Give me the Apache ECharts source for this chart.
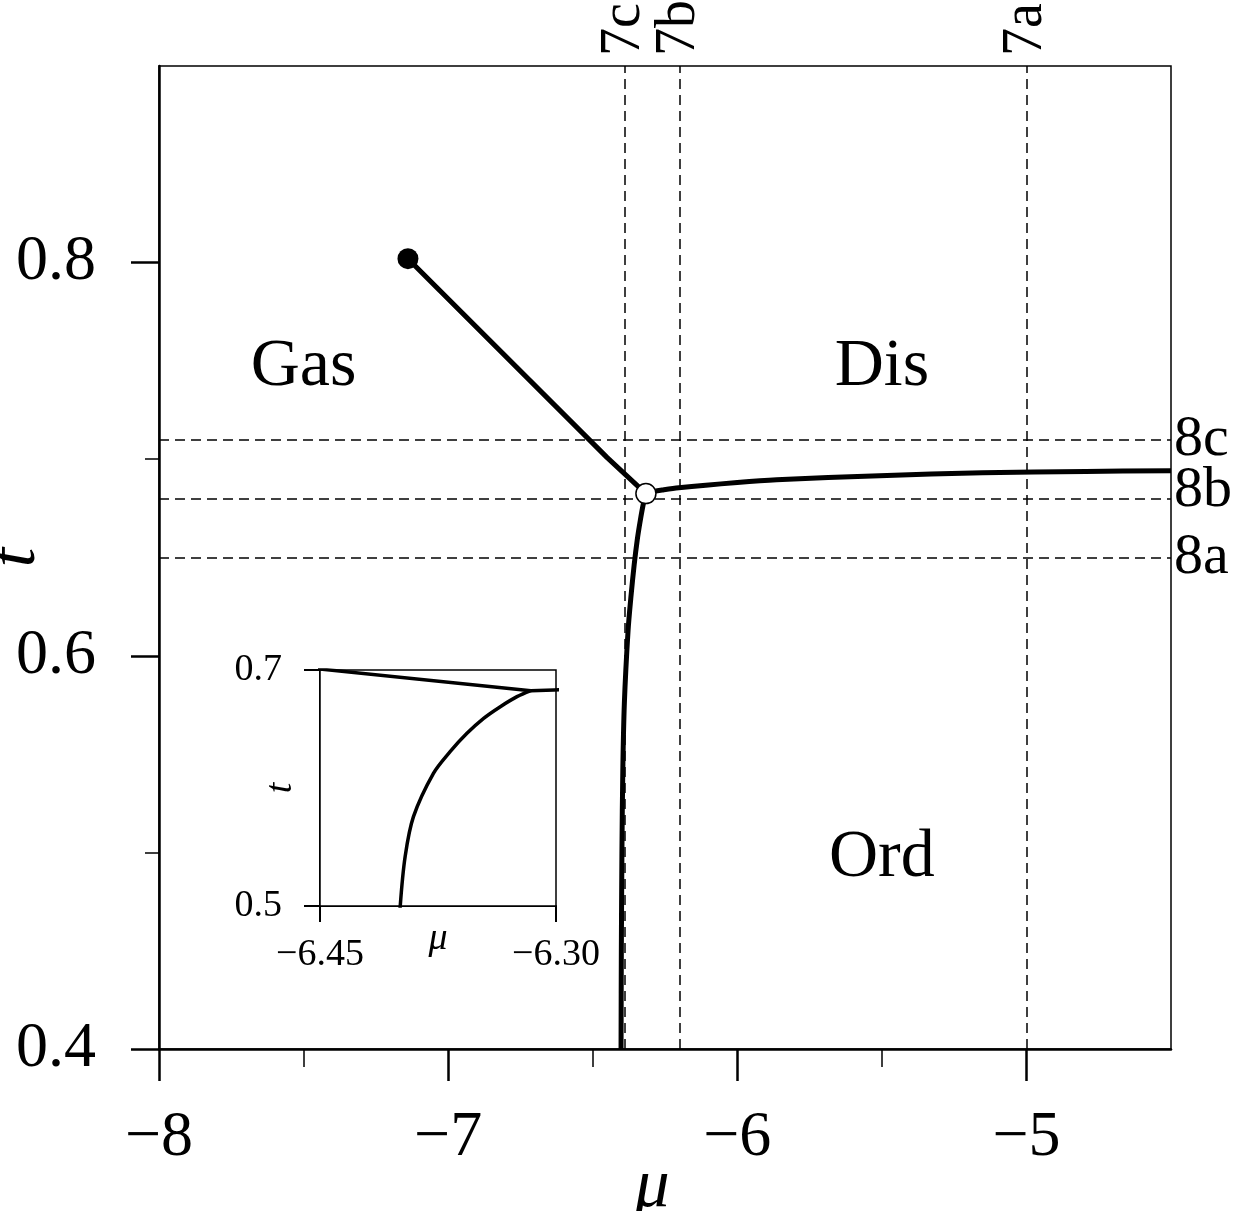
<!DOCTYPE html>
<html><head><meta charset="utf-8">
<script src="https://cdn.jsdelivr.net/npm/echarts@6/dist/echarts.min.js"></script>
<style>html,body{margin:0;padding:0;background:#fff}#c{width:1238px;height:1211px}</style>
</head><body><div id="c"></div><script>
// ---- data ----
const xMajorTicks = [-8, -7, -6, -5];
const xMinorTicks = [-7.5, -6.5, -5.5];
const yMajorTicks = [0.4, 0.6, 0.8];
const yMinorTicks = [0.5, 0.7];
const insetXTicks = [-6.45, -6.30];
const insetYTicks = [0.5, 0.7];

const criticalPoint = [-7.139, 0.802];
const triplePoint = [-6.316, 0.6825];

const gasLiquidMu = [-7.139, -6.45, -6.316];
const gasLiquidT  = [0.802, 0.7008, 0.6825];

const ordGasMu = [-6.402, -6.401, -6.399, -6.3959, -6.3906, -6.3779, -6.3673, -6.3566, -6.346, -6.3354, -6.3248, -6.316];
const ordGasT  = [0.40, 0.45, 0.50, 0.5418, 0.5757, 0.6124, 0.6308, 0.6463, 0.659, 0.6689, 0.6774, 0.6825];

const disOrdMu = [-6.316, -6.29, -6.26, -6.2025, -6.0, -5.864, -5.508, -5.152, -4.795, -4.5];
const disOrdT  = [0.6825, 0.6835, 0.6843, 0.6855, 0.6882, 0.6896, 0.6916, 0.6931, 0.6938, 0.6941];

const verticalCutLabels = ['7c', '7b', '7a'];
const verticalCutMu = [-6.39, -6.2, -5.0];
const horizontalCutLabels = ['8c', '8b', '8a'];
const horizontalCutT = [0.71, 0.684, 0.65];

const phaseLabels = ['Gas', 'Dis', 'Ord'];
const phaseMu = [-7.5, -5.5, -5.5];
const phaseT = [0.75, 0.75, 0.5];

const insetDashMu = [-6.39];
const insetDashT = [0.684];

// ---- helpers ----
const zip = (a, b) => a.map((v, i) => [v, b[i]]);
const FONT = '"Liberation Serif", "DejaVu Serif", serif';
const minus = (s) => s.replace('-', '\u2212');

const chart = echarts.init(document.getElementById('c'), null, {renderer: 'canvas'});

const lineBase = {type: 'line', symbol: 'none', silent: true, animation: false};
const labelScatter = {type: 'scatter', xAxisIndex: 0, yAxisIndex: 0, z: 5, silent: true, symbolSize: 0, clip: false,
  itemStyle: {color: '#000', opacity: 1}};

chart.setOption({
  animation: false,
  backgroundColor: '#fff',
  grid: [
    {left: 159, top: 66, width: 1012, height: 983, containLabel: false, outerBoundsMode: 'none',
     show: true, borderColor: '#000', borderWidth: 1.5, backgroundColor: 'transparent'},
    {left: 320, top: 670, width: 236, height: 236, containLabel: false, outerBoundsMode: 'none',
     show: true, borderColor: '#000', borderWidth: 1.5, backgroundColor: '#fff', z: 10}
  ],
  xAxis: [
    {gridIndex: 0, type: 'value', min: -8, max: -4.5, position: 'bottom',
     axisLine: {show: true, onZero: false, lineStyle: {color: '#000', width: 2.5}},
     axisTick: {show: true, customValues: xMajorTicks, length: 32, lineStyle: {color: '#000', width: 2.5}},
     axisLabel: {customValues: xMajorTicks, margin: 57, color: '#000', fontSize: 64, fontFamily: FONT,
                 formatter: v => minus(String(Math.round(v)))},
     splitLine: {show: false},
     name: 'μ', nameLocation: 'middle', nameGap: 104, nameMoveOverlap: false,
     nameTextStyle: {fontSize: 70, fontStyle: 'italic', fontFamily: FONT, color: '#000', padding: [0, 26, 0, 0]}},
    {gridIndex: 0, type: 'value', min: -8, max: -4.5, position: 'bottom',
     axisLine: {show: false},
     axisTick: {show: true, customValues: xMinorTicks, length: 18, lineStyle: {color: '#000', width: 1.5}},
     axisLabel: {show: false}, splitLine: {show: false}},
    {gridIndex: 1, type: 'value', min: -6.45, max: -6.30, position: 'bottom',
     axisLine: {show: true, onZero: false, lineStyle: {color: '#000', width: 2}},
     axisTick: {show: true, customValues: insetXTicks, length: 16, lineStyle: {color: '#000', width: 2}},
     axisLabel: {customValues: insetXTicks, margin: 30, color: '#000', fontSize: 38, fontFamily: FONT,
                 formatter: v => minus(v.toFixed(2))},
     splitLine: {show: false},
     name: 'μ', nameLocation: 'middle', nameGap: 14, nameMoveOverlap: false,
     nameTextStyle: {fontSize: 38, fontStyle: 'italic', fontFamily: FONT, color: '#000'}}
  ],
  yAxis: [
    {gridIndex: 0, type: 'value', min: 0.4, max: 0.9, position: 'left',
     axisLine: {show: true, onZero: false, lineStyle: {color: '#000', width: 2.5}},
     axisTick: {show: true, customValues: yMajorTicks, length: 28, lineStyle: {color: '#000', width: 2.5}},
     axisLabel: {customValues: yMajorTicks, margin: 63, color: '#000', fontSize: 64, fontFamily: FONT,
                 formatter: v => v.toFixed(1)},
     splitLine: {show: false},
     name: 't', nameLocation: 'middle', nameGap: 108, nameMoveOverlap: false,
     nameTextStyle: {fontSize: 70, fontStyle: 'italic', fontFamily: FONT, color: '#000'}},
    {gridIndex: 0, type: 'value', min: 0.4, max: 0.9, position: 'left',
     axisLine: {show: false},
     axisTick: {show: true, customValues: yMinorTicks, length: 14, lineStyle: {color: '#000', width: 1.5}},
     axisLabel: {show: false}, splitLine: {show: false}},
    {gridIndex: 1, type: 'value', min: 0.5, max: 0.7, position: 'left',
     axisLine: {show: true, onZero: false, lineStyle: {color: '#000', width: 2}},
     axisTick: {show: true, customValues: insetYTicks, length: 16, lineStyle: {color: '#000', width: 2}},
     axisLabel: {customValues: insetYTicks, margin: 38, color: '#000', fontSize: 38, fontFamily: FONT,
                 formatter: v => v.toFixed(1)},
     splitLine: {show: false},
     name: 't', nameLocation: 'middle', nameGap: 20, nameMoveOverlap: false,
     nameTextStyle: {fontSize: 38, fontStyle: 'italic', fontFamily: FONT, color: '#000'}}
  ],
  series: [
    // main dashed cut lines
    Object.assign({}, lineBase, {xAxisIndex: 0, yAxisIndex: 0, data: [], z: 1,
      markLine: {silent: true, symbol: ['none', 'none'], animation: false, label: {show: false},
        lineStyle: {color: '#000', width: 1.5, type: [10, 6], opacity: 1},
        data: verticalCutMu.map(v => ({xAxis: v})).concat(horizontalCutT.map(v => ({yAxis: v})))}}),
    // main curves
    Object.assign({}, lineBase, {xAxisIndex: 0, yAxisIndex: 0, z: 3, data: zip(gasLiquidMu, gasLiquidT),
      lineStyle: {color: '#000', width: 5}}),
    Object.assign({}, lineBase, {xAxisIndex: 0, yAxisIndex: 0, z: 3, data: zip(ordGasMu, ordGasT), smooth: 0.3,
      lineStyle: {color: '#000', width: 5}}),
    Object.assign({}, lineBase, {xAxisIndex: 0, yAxisIndex: 0, z: 3, data: zip(disOrdMu, disOrdT), smooth: 0.3,
      lineStyle: {color: '#000', width: 5}}),
    // points
    {type: 'scatter', xAxisIndex: 0, yAxisIndex: 0, z: 5, silent: true, symbolSize: 21,
     itemStyle: {color: '#000', opacity: 1}, data: [criticalPoint]},
    {type: 'scatter', xAxisIndex: 0, yAxisIndex: 0, z: 6, silent: true, symbolSize: 20,
     itemStyle: {color: '#fff', borderColor: '#000', borderWidth: 1.5, opacity: 1}, data: [triplePoint]},
    // top cut labels
    Object.assign({}, labelScatter, {
     data: verticalCutMu.map((m, i) => ({name: verticalCutLabels[i], value: [m, 0.9]})),
     label: {show: true, formatter: p => p.name, position: 'top', distance: 10, rotate: 90,
             align: 'left', verticalAlign: 'middle', fontSize: 56, fontFamily: FONT, color: '#000', opacity: 1}}),
    // right cut labels
    Object.assign({}, labelScatter, {
     data: horizontalCutT.map((t, i) => ({name: horizontalCutLabels[i], value: [-4.5, t]})),
     label: {show: true, formatter: p => p.name, position: 'right', distance: 3,
             align: 'left', verticalAlign: 'middle', fontSize: 58, fontFamily: FONT, color: '#000', opacity: 1}}),
    // phase labels
    Object.assign({}, labelScatter, {
     data: phaseMu.map((m, i) => ({name: phaseLabels[i], value: [m, phaseT[i]]})),
     label: {show: true, formatter: p => p.name, position: 'inside', offset: [0, 6],
             align: 'center', verticalAlign: 'middle', fontSize: 68, fontFamily: FONT, color: '#000', opacity: 1}}),
    // inset dashed lines
    Object.assign({}, lineBase, {xAxisIndex: 2, yAxisIndex: 2, data: [], z: 11,
      markLine: {silent: true, symbol: ['none', 'none'], animation: false, label: {show: false},
        lineStyle: {color: '#666', width: 1.2, type: [6, 4], opacity: 1},
        data: insetDashMu.map(v => ({xAxis: v})).concat(insetDashT.map(v => ({yAxis: v})))}}),
    // inset curves
    Object.assign({}, lineBase, {xAxisIndex: 2, yAxisIndex: 2, z: 12, data: zip(gasLiquidMu, gasLiquidT),
      lineStyle: {color: '#000', width: 3.5}}),
    Object.assign({}, lineBase, {xAxisIndex: 2, yAxisIndex: 2, z: 12, data: zip(ordGasMu, ordGasT), smooth: 0.3,
      lineStyle: {color: '#000', width: 3.5}}),
    Object.assign({}, lineBase, {xAxisIndex: 2, yAxisIndex: 2, z: 12, data: zip(disOrdMu, disOrdT), smooth: 0.3,
      lineStyle: {color: '#000', width: 3.5}})
  ]
});
</script></body></html>
